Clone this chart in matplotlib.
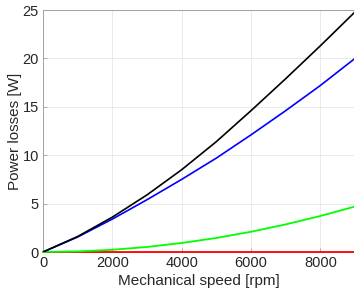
import matplotlib
matplotlib.use("Agg")
import matplotlib.pyplot as plt
import numpy as np

speed = [0, 1000, 2000, 3000, 4000, 5000, 6000, 7000, 8000, 9000]
total_losses = [0, 1.6, 3.6, 5.9, 8.5, 11.4, 14.6, 17.9, 21.3, 24.8]
blue_losses = [0, 1.55, 3.4, 5.4, 7.5, 9.7, 12.1, 14.6, 17.2, 20.0]
green_losses = [0, 0.06, 0.23, 0.52, 0.93, 1.45, 2.09, 2.85, 3.72, 4.7]
red_losses = [0, 0, 0, 0, 0, 0, 0, 0, 0, 0]

xticks = [0, 2000, 4000, 6000, 8000]
yticks = [0, 5, 10, 15, 20, 25]

plt.rcParams['font.family'] = ['Liberation Sans', 'DejaVu Sans']

fig = plt.figure(figsize=(3.54, 2.94), dpi=100)
ax = fig.add_axes([43/354, 42/294, 312/354, 242/294])

ax.plot(speed, red_losses, color=(1, 0, 0), lw=1.3, clip_on=False, zorder=3)
ax.plot(speed, green_losses, color=(0, 1, 0), lw=1.3, clip_on=False, zorder=3)
ax.plot(speed, blue_losses, color=(0, 0, 1), lw=1.2, zorder=3)
ax.plot(speed, total_losses, color=(0, 0, 0), lw=1.2, zorder=3)

ax.set_xlim(0, 9000)
ax.set_ylim(0, 25)
ax.set_xticks(xticks)
ax.set_yticks(yticks)
ax.grid(True, color='#e6e6e6', lw=0.6)
ax.set_axisbelow(True)
ax.tick_params(direction='in', length=3, width=0.6, colors='#a0a0a0',
               labelcolor='#262626', labelsize=10.5, pad=3)
for s in ax.spines.values():
    s.set_color('#a0a0a0')
    s.set_linewidth(0.7)

ax.set_xlabel('Mechanical speed [rpm]', fontsize=11, color='#262626', labelpad=3)
ax.set_ylabel('Power losses [W]', fontsize=11, color='#262626', labelpad=0)

fig.savefig('out.png', dpi=100)
